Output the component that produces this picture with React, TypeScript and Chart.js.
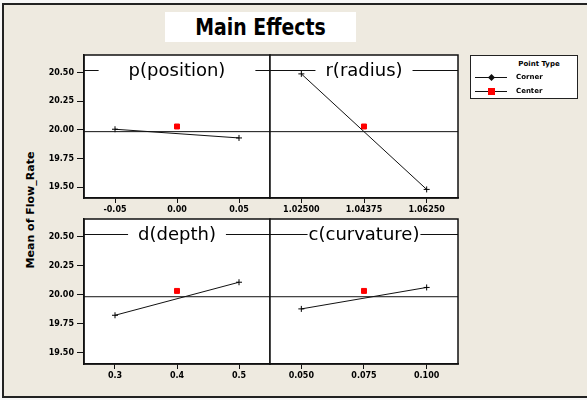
import React, { useEffect, useRef } from 'react';
import { Chart, registerables } from 'chart.js';
Chart.register(...registerables);

// ---- data ----
const yTickValues = [19.5, 19.75, 20.0, 20.25, 20.5];
const yMin = 19.405;
const yMax = 20.655;
const grandMean = 19.985;

const pTitle = 'p(position)';
const pLevels = [-0.05, 0.0, 0.05];
const pLabels = ['-0.05', '0.00', '0.05'];
const pCorner = [20.006, 19.93];
const pCenter = 20.03;

const rTitle = 'r(radius)';
const rLevels = [1.025, 1.04375, 1.0625];
const rLabels = ['1.02500', '1.04375', '1.06250'];
const rCorner = [20.49, 19.48];
const rCenter = 20.03;

const dTitle = 'd(depth)';
const dLevels = [0.3, 0.4, 0.5];
const dLabels = ['0.3', '0.4', '0.5'];
const dCorner = [19.825, 20.11];
const dCenter = 20.035;

const cTitle = 'c(curvature)';
const cLevels = [0.05, 0.075, 0.1];
const cLabels = ['0.050', '0.075', '0.100'];
const cCorner = [19.88, 20.065];
const cCenter = 20.035;

const legendTitle = 'Point Type';
const legendNames = ['Corner', 'Center'];
const yAxisTitle = 'Mean of Flow_Rate';
const mainTitle = 'Main Effects';

const tickFont = { family: 'DejaVu Sans', size: 8, weight: 'bold' as const };

type PanelProps = {
  title: string;
  levels: number[];
  labels: string[];
  corner: number[];
  center: number;
  showY: boolean;
  left: number;
  top: number;
  width: number;
  height: number;
  gap: number;
};

function Panel(p: PanelProps) {
  const ref = useRef<HTMLCanvasElement | null>(null);
  useEffect(() => {
    if (!ref.current) return;
    const span = p.levels[2] - p.levels[0];
    const xMin = p.levels[0] - 0.25 * span;
    const xMax = p.levels[2] + 0.25 * span;
    const framePlugin = {
      id: 'frame',
      beforeDraw(chart: any) {
        const a = chart.chartArea;
        const ctx = chart.ctx;
        ctx.save();
        ctx.fillStyle = '#ffffff';
        ctx.fillRect(a.left, a.top, a.right - a.left, a.bottom - a.top);
        ctx.restore();
      },
      beforeDatasetsDraw(chart: any) {
        const a = chart.chartArea;
        const ctx = chart.ctx;
        ctx.save();
        const yLine = a.top + 15.5;
        ctx.font = '18px "DejaVu Sans"';
        const tw = ctx.measureText(p.title).width;
        const cx = (a.left + a.right) / 2;
        ctx.strokeStyle = '#111';
        ctx.lineWidth = 1;
        ctx.beginPath();
        ctx.moveTo(a.left, yLine);
        ctx.lineTo(cx - tw / 2 - p.gap, yLine);
        ctx.moveTo(cx + tw / 2 + p.gap, yLine);
        ctx.lineTo(a.right, yLine);
        ctx.stroke();
        ctx.fillStyle = '#000';
        ctx.textAlign = 'center';
        ctx.textBaseline = 'middle';
        ctx.fillText(p.title, cx, yLine + 1);
        ctx.restore();
      },
      afterDraw(chart: any) {
        const a = chart.chartArea;
        const ctx = chart.ctx;
        ctx.save();
        ctx.strokeStyle = '#111';
        ctx.lineWidth = 1.5;
        ctx.strokeRect(a.left, a.top, a.right - a.left, a.bottom - a.top);
        ctx.restore();
      },
    };
    const chart = new Chart(ref.current, {
      type: 'line',
      data: {
        datasets: [
          {
            label: 'mean',
            data: [
              { x: xMin, y: grandMean },
              { x: xMax, y: grandMean },
            ],
            borderColor: '#111',
            borderWidth: 1,
            pointRadius: 0,
          },
          {
            label: legendNames[0],
            data: [
              { x: p.levels[0], y: p.corner[0] },
              { x: p.levels[2], y: p.corner[1] },
            ],
            borderColor: '#111',
            borderWidth: 1,
            pointStyle: 'cross',
            pointRadius: 3,
            pointBorderWidth: 1,
            pointBorderColor: '#000',
          },
          {
            label: legendNames[1],
            data: [{ x: p.levels[1], y: p.center }],
            showLine: false,
            pointStyle: 'rect',
            pointRadius: 3.5,
            backgroundColor: '#ff0000',
            borderColor: '#ff0000',
            pointBackgroundColor: '#ff0000',
            pointBorderColor: '#ff0000',
          },
        ],
      },
      options: {
        animation: false,
        responsive: false,
        devicePixelRatio: 1,
        layout: { autoPadding: false, padding: { left: p.showY ? 0 : 2, top: 3, right: 2, bottom: 0 } },
        plugins: { legend: { display: false }, tooltip: { enabled: false } },
        scales: {
          x: {
            type: 'linear',
            min: xMin,
            max: xMax,
            afterBuildTicks: (s: any) => {
              s.ticks = p.levels.map((v) => ({ value: v }));
            },
            afterFit: (s: any) => {
              s.height = 22;
              s.paddingLeft = 0;
              s.paddingRight = 0;
            },
            ticks: {
              autoSkip: false,
              maxRotation: 0,
              padding: 2,
              color: '#000',
              font: tickFont,
              callback: (_v: any, i: number) => p.labels[i],
            },
            grid: { display: true, drawOnChartArea: false, drawTicks: true, tickLength: 5, color: '#111', lineWidth: 1 },
            border: { display: true, color: '#111', width: 1.5 },
          },
          y: {
            type: 'linear',
            display: p.showY,
            min: yMin,
            max: yMax,
            afterBuildTicks: (s: any) => {
              s.ticks = yTickValues.map((v) => ({ value: v }));
            },
            afterFit: (s: any) => {
              s.width = p.showY ? 54 : 0;
              s.paddingTop = 0;
              s.paddingBottom = 0;
            },
            ticks: {
              padding: 3,
              color: '#000',
              font: tickFont,
              callback: (v: any) => Number(v).toFixed(2),
            },
            grid: { display: true, drawOnChartArea: false, drawTicks: true, tickLength: 7, color: '#111', lineWidth: 1 },
            border: { display: true, color: '#111', width: 1.5 },
          },
        },
      } as any,
      plugins: [framePlugin],
    });
    return () => chart.destroy();
  }, []);
  return (
    <canvas
      ref={ref}
      width={p.width}
      height={p.height}
      style={{ position: 'absolute', left: p.left, top: p.top, width: p.width, height: p.height }}
    />
  );
}

export default function App() {
  return (
    <div
      style={{
        position: 'fixed',
        left: 0,
        top: 0,
        width: 587,
        height: 400,
        overflow: 'hidden',
        background: '#f7f7f7',
        fontFamily: '"DejaVu Sans", sans-serif',
      }}
    >
      <div
        style={{
          position: 'absolute',
          left: 2,
          top: 3,
          width: 640,
          height: 391,
          border: '2px solid #222',
          background: '#eeeae0',
        }}
      />
      <div
        style={{
          position: 'absolute',
          left: 165,
          top: 12,
          width: 191,
          height: 30,
          background: '#ffffff',
          textAlign: 'center',
          lineHeight: '30px',
          fontFamily: '"DejaVu Sans", sans-serif',
          fontWeight: 'bold',
          fontSize: 23,
          color: '#000',
        }}
      >
        <span style={{ display: 'inline-block', transform: 'scaleX(0.82)' }}>{mainTitle}</span>
      </div>
      <div
        style={{
          position: 'absolute',
          left: 30,
          top: 210,
          transform: 'translate(-50%, -50%) rotate(-90deg)',
          whiteSpace: 'nowrap',
          fontWeight: 'bold',
          fontSize: 11,
          color: '#000',
        }}
      >
        {yAxisTitle}
      </div>
      <Panel title={pTitle} levels={pLevels} labels={pLabels} corner={pCorner} center={pCenter} showY={true} left={30} top={52} width={242} height={168} gap={30} />
      <Panel title={rTitle} levels={rLevels} labels={rLabels} corner={rCorner} center={rCenter} showY={false} left={268} top={52} width={192} height={168} gap={10} />
      <Panel title={dTitle} levels={dLevels} labels={dLabels} corner={dCorner} center={dCenter} showY={true} left={30} top={216} width={242} height={170} gap={10} />
      <Panel title={cTitle} levels={cLevels} labels={cLabels} corner={cCorner} center={cCenter} showY={false} left={268} top={216} width={192} height={170} gap={1} />
      <div
        style={{
          position: 'absolute',
          left: 470,
          top: 55,
          width: 106,
          height: 42,
          background: '#ffffff',
          border: '1.5px solid #222',
          fontSize: 7,
          fontWeight: 'bold',
          color: '#000',
        }}
      >
        <div style={{ position: 'absolute', left: 0, width: 106, top: 4, textAlign: 'center', paddingLeft: 30, boxSizing: 'border-box' }}>{legendTitle}</div>
        {legendNames.map((n, i) => (
          <div key={n} style={{ position: 'absolute', left: 4, top: 17 + i * 14, height: 9, width: 100 }}>
            <div style={{ position: 'absolute', left: 0, top: 4, width: 32, height: 1, background: '#111' }} />
            {i === 0 ? (
              <div style={{ position: 'absolute', left: 14, top: 2, width: 5, height: 5, background: '#111', transform: 'rotate(45deg)' }} />
            ) : (
              <div style={{ position: 'absolute', left: 13, top: 1, width: 7, height: 7, background: '#ff0000' }} />
            )}
            <div style={{ position: 'absolute', left: 41, top: 0, lineHeight: '9px' }}>{n}</div>
          </div>
        ))}
      </div>
    </div>
  );
}
